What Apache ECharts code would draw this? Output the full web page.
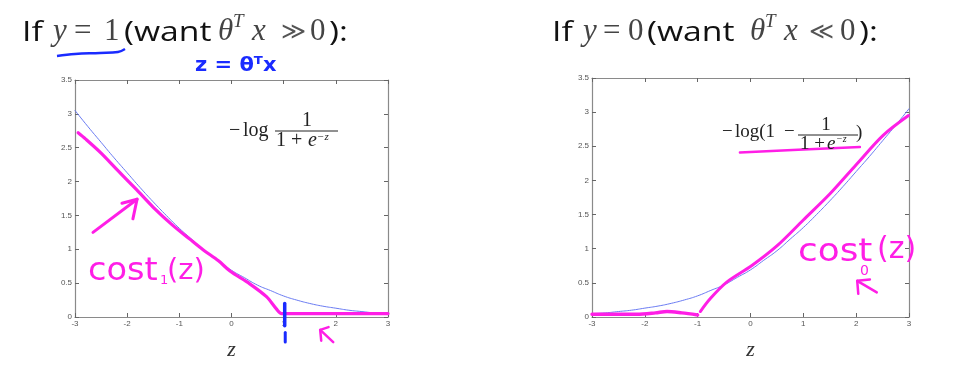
<!DOCTYPE html>
<html>
<head>
<meta charset="utf-8">
<script src="https://cdn.jsdelivr.net/npm/echarts@6/dist/echarts.min.js"></script>
<style>
html,body{margin:0;padding:0;background:#fff;}
#main{width:967px;height:366px;}
</style>
</head>
<body>
<div id="main"></div>
<script>
// ---- data ----
const zTicks = [-3, -2, -1, 0, 1, 2, 3];
const yTicks = [0, 0.5, 1, 1.5, 2, 2.5, 3, 3.5];
const zSamples = [-3,-2.75,-2.5,-2.25,-2,-1.75,-1.5,-1.25,-1,-0.75,-0.5,-0.25,0,0.25,0.5,0.75,1,1.25,1.5,1.75,2,2.25,2.5,2.75,3];
// left blue curve: -log(1/(1+e^-z))
const costY1Curve = [3.05,2.81,2.58,2.35,2.13,1.91,1.70,1.50,1.31,1.14,0.97,0.83,0.69,0.58,0.47,0.39,0.31,0.25,0.20,0.16,0.13,0.10,0.08,0.06,0.05];
// right blue curve: -log(1 - 1/(1+e^-z))
const costY0Curve = [0.05,0.06,0.08,0.10,0.13,0.16,0.20,0.25,0.31,0.39,0.47,0.58,0.69,0.83,0.97,1.14,1.31,1.50,1.70,1.91,2.13,2.35,2.58,2.81,3.05];
// magenta hand-drawn cost1(z)
const cost1Z = [-2.94,-2.8,-2.5,-2.2,-1.82,-1.5,-1.12,-0.8,-0.54,-0.25,-0.03,0.35,0.67,0.86,0.96,1.2,2.0,2.6,3.0];
const cost1V = [2.72,2.63,2.42,2.18,1.88,1.62,1.35,1.15,0.99,0.83,0.68,0.49,0.30,0.12,0.05,0.05,0.05,0.05,0.05];
// magenta hand-drawn cost0(z)
const cost0FlatZ = [-3.0,-2.6,-2.15,-1.8,-1.58,-1.3,-1.0];
const cost0FlatV = [0.04,0.04,0.04,0.06,0.08,0.06,0.03];
const cost0RiseZ = [-0.95,-0.76,-0.45,0.02,0.5,1.0,1.5,2.0,2.51,2.99];
const cost0RiseV = [0.08,0.27,0.51,0.75,1.04,1.42,1.80,2.23,2.66,2.95];
// hand annotations (data units)
const arrowLeftShaft = [[-2.655,1.25],[-1.81,1.74]];
const arrowLeftHead = [[-2.10,1.68],[-1.81,1.74],[-1.89,1.45]];
const blueMark1 = [[1.02,0.2],[1.02,-0.13]];
const blueMark2 = [[1.03,-0.23],[1.03,-0.37]];
const smallArrowLShaft = [[1.70,-0.19],[1.95,-0.37]];
const smallArrowLHead = [[1.86,-0.15],[1.70,-0.19],[1.72,-0.35]];
const smallArrowRShaft = [[2.02,0.53],[2.39,0.36]];
const smallArrowRHead = [[2.26,0.55],[2.02,0.53],[2.04,0.34]];
const formulaUnderline = [[-0.2,2.41],[0.9,2.45],[2.07,2.49]];

const pairs = (xs, ys) => xs.map((x, i) => [x, ys[i]]);

const chart = echarts.init(document.getElementById('main'), null, {renderer:'canvas'});

const labelStyle = {color:'#555', fontSize:8, fontFamily:'Liberation Sans', margin:3};
const axLine = {show:true, onZero:false, lineStyle:{color:'#8a8a8a', width:1.2}};
function xAx(gi, top){
  return {type:'value', gridIndex:gi, min:-3, max:3, interval:1, position: top?'top':'bottom',
    axisLine:axLine, axisTick:{show:true, inside:true, length:4, lineStyle:{color:'#666'}},
    axisLabel: top?{show:false}:Object.assign({formatter:v=>String(v)}, labelStyle),
    splitLine:{show:false},
    name: top?'':'z', nameLocation:'middle', nameGap:22,
    nameTextStyle:{fontFamily:'Liberation Serif', fontStyle:'italic', fontSize:22, color:'#333'}};
}
function yAx(gi, right){
  return {type:'value', gridIndex:gi, min:0, max:3.5, interval:0.5, position: right?'right':'left',
    axisLine:axLine, axisTick:{show:true, inside:true, length:4, lineStyle:{color:'#666'}},
    axisLabel: right?{show:false}:Object.assign({formatter:v=>String(v)}, labelStyle),
    splitLine:{show:false}};
}
function ln(name, xi, data, color, width, clip){
  return {type:'line', name, xAxisIndex:xi, yAxisIndex:xi, data, showSymbol:false, symbol:'none',
    smooth: false, silent:true, clip: clip!==false ? true : false,
    lineStyle:{color, width, cap:'round', join:'round'}, z: 3};
}
const blue = '#6a7bf2', mag = '#ff1ee6', hblue = '#1a2bff';

const option = {
  animation:false,
  backgroundColor:'#fff',
  grid:[
    {left:75, top:80, width:313, height:244},
    {left:592, top:78, width:317, height:244}
  ],
  xAxis:[xAx(0,false), xAx(1,false), xAx(0,true), xAx(1,true)],
  yAxis:[yAx(0,false), yAx(1,false), yAx(0,true), yAx(1,true)],
  series:[
    Object.assign(ln('-log sigmoid', 0, pairs(zSamples, costY1Curve), blue, 1), {smooth:true}),
    Object.assign(ln('-log(1-sigmoid)', 1, pairs(zSamples, costY0Curve), blue, 1), {smooth:true}),
    Object.assign(ln('cost1', 0, pairs(cost1Z, cost1V), mag, 3.2, false), {smooth:0.3}),
    Object.assign(ln('cost0a', 1, pairs(cost0FlatZ, cost0FlatV), mag, 3.4, false), {smooth:0.3}),
    Object.assign(ln('cost0b', 1, pairs(cost0RiseZ, cost0RiseV), mag, 3, false), {smooth:0.3}),
    ln('a1', 0, arrowLeftShaft, mag, 3, false),
    ln('a2', 0, arrowLeftHead, mag, 3, false),
    ln('b1', 0, blueMark1, hblue, 3.5, false),
    ln('b2', 0, blueMark2, hblue, 3, false),
    ln('a3', 0, smallArrowLShaft, mag, 2.5, false),
    ln('a4', 0, smallArrowLHead, mag, 2.5, false),
    ln('a5', 1, smallArrowRShaft, mag, 2.5, false),
    ln('a6', 1, smallArrowRHead, mag, 2.5, false),
    Object.assign(ln('u1', 1, formulaUnderline, mag, 2.5, false), {smooth:true})
  ]
};
chart.setOption(option);

// ---- texts (x = left edge, B = baseline) ----
const sans = 'Open Sans', serif = 'Liberation Serif';
const g = [];
function T(x, B, text, o, sx){
  const st = Object.assign({text, fontFamily:sans, fontSize:27, fill:'#111', align:'left'}, o||{});
  st.verticalAlign = 'middle';
  g.push({type:'text', x, y: B - 0.3*st.fontSize, scaleX: sx||1, z:10, style:st});
}
const mathC = '#444';
const mI = {fontFamily:serif, fontStyle:'italic', fontSize:31, fill:mathC};
const mR = {fontFamily:serif, fontSize:31, fill:mathC};
const mRel = {fontFamily:'DejaVu Serif', fontSize:24, fill:'#555'};
const supS = {fontFamily:serif, fontStyle:'italic', fontSize:19, fill:mathC};
function title(p, rel, zero){
  const B = 41;
  T(p[0], B, 'If', null, 1.25);
  T(p[1], B, 'y', mI);
  T(p[2], B, '=', mR);
  T(p[3], B, zero, mR);
  T(p[4], B, '(want', null, 1.25);
  T(p[5], B, 'θ', mI);
  T(p[6], B-13, 'T', supS);
  T(p[7], B, 'x', mI);
  T(p[8], B-1, rel, mRel);
  T(p[9], B, '0', mR);
  T(p[10], B, '):', null, 1.25);
}
title([22,53,74,104,124,218,233,252,281,310,329], '≫', '1');
title([552,583,603,628,647,750,765,784,809,840,859], '≪', '0');
// blue handwriting
g.push({type:'polyline', shape:{points:[[57,56],[75,54],[100,53],[118,52],[125,49]], smooth:0.4}, style:{stroke:hblue, lineWidth:2.5, fill:null}});
T(195, 72, 'z = θᵀx', {fontFamily:'DejaVu Sans', fontSize:20, fontWeight:'bold', fill:hblue}, 1.05);
// formula left
const fs = {fontFamily:serif, fontSize:20, fill:'#222'};
T(229, 137, '−', fs);
T(243, 137, 'log', fs);
T(307, 127, '1', Object.assign({}, fs, {align:'center'}));
g.push({type:'line', z:10, shape:{x1:275, y1:131, x2:338, y2:131}, style:{stroke:'#222', lineWidth:1}});
T(276, 147, '1 +', fs);
T(308, 147, 'e', Object.assign({}, fs, {fontStyle:'italic'}));
T(317, 140, '−z', Object.assign({}, fs, {fontStyle:'italic', fontSize:11}));
// formula right
const fs2 = {fontFamily:serif, fontSize:19, fill:'#222'};
T(722, 138, '−', fs2);
T(735, 138, 'log(1', fs2);
T(784, 138, '−', fs2);
T(826, 131, '1', Object.assign({}, fs2, {align:'center'}));
g.push({type:'line', z:10, shape:{x1:798, y1:135, x2:858, y2:135}, style:{stroke:'#222', lineWidth:1}});
T(800, 150, '1 +', fs2);
T(827, 150, 'e', Object.assign({}, fs2, {fontStyle:'italic'}));
T(836, 142, '−z', Object.assign({}, fs2, {fontStyle:'italic', fontSize:10}));
T(856, 139, ')', fs2);
// magenta handwriting
const hw = {fontFamily:'DejaVu Sans', fontSize:32, fill:mag};
T(88, 281, 'cost', hw, 1.05);
T(160, 285, '1', Object.assign({}, hw, {fontSize:13}));
T(167, 280, '(z)', Object.assign({}, hw, {fontSize:29}));
T(798, 262, 'cost', hw, 1.12);
T(860, 276, '0', Object.assign({}, hw, {fontSize:14}));
T(877, 259, '(z)', Object.assign({}, hw, {fontSize:30}));
chart.setOption({graphic:g});
</script>
</body>
</html>
